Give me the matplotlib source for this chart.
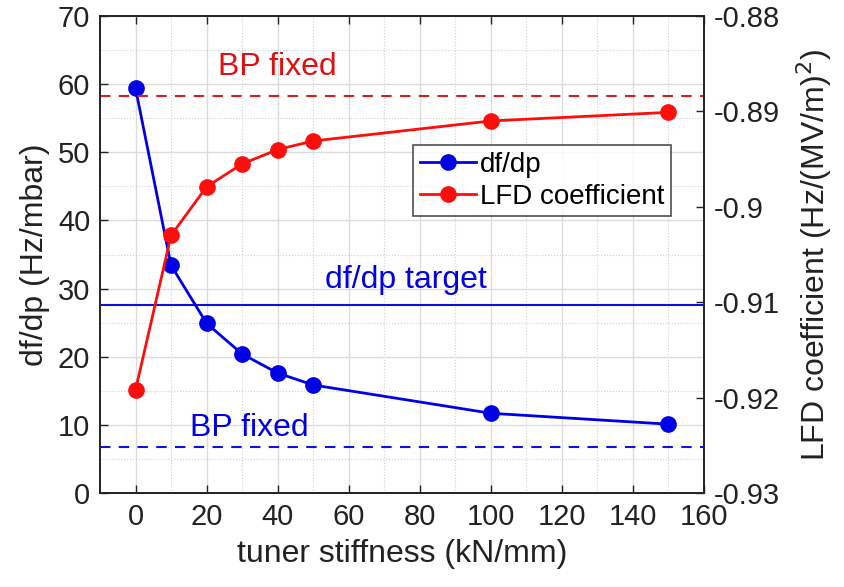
import matplotlib
matplotlib.use("Agg")
import matplotlib.pyplot as plt
from matplotlib.ticker import MultipleLocator

plt.rcParams['font.family'] = ['Liberation Sans', 'DejaVu Sans']

stiffness = [0, 10, 20, 30, 40, 50, 100, 150]
dfdp = [59.4, 33.4, 24.9, 20.4, 17.6, 15.85, 11.7, 10.1]
lfd = [-0.9192, -0.9030, -0.8979, -0.8955, -0.8940, -0.8931, -0.8910, -0.8901]
dfdp_target = 27.6
dfdp_bp_fixed = 6.8
lfd_bp_fixed = -0.8884

fig = plt.figure(figsize=(8.44, 5.87), dpi=100)
ax = fig.add_axes([100/844, 1-493/587, 604/844, 477/587])
ax2 = ax.twinx()

ax.set_xlim(-10, 160)
ax.set_ylim(0, 70)
ax2.set_ylim(-0.93, -0.88)

ax.xaxis.set_major_locator(MultipleLocator(20))
ax.xaxis.set_minor_locator(MultipleLocator(10))
ax.yaxis.set_major_locator(MultipleLocator(10))
ax.yaxis.set_minor_locator(MultipleLocator(5))
ax2.set_yticks([-0.93, -0.92, -0.91, -0.90, -0.89, -0.88])
ax2.set_yticklabels(['-0.93', '-0.92', '-0.91', '-0.9', '-0.89', '-0.88'])

ax.grid(which='major', color='#dcdcdc', linewidth=1.0)
ax.grid(which='minor', color='#d0d0d0', linewidth=0.8, linestyle=':')
ax.set_axisbelow(True)

ax.tick_params(which='major', direction='in', length=6, width=1, top=True, labelsize=21, pad=7, colors='#222222')
ax.tick_params(which='minor', length=0)
ax2.tick_params(direction='in', length=6, width=1, labelsize=21, pad=7, colors='#222222')
for a in (ax, ax2):
    for s in a.spines.values():
        s.set_color('#222222')
        s.set_linewidth(1.2)

ax.axhline(dfdp_target, color='#1010d0', linewidth=1.5)
ax.axhline(dfdp_bp_fixed, color='#1010e0', linewidth=1.5, linestyle=(0, (5, 4)))
ax2.axhline(lfd_bp_fixed, color='#d02020', linewidth=1.5, linestyle=(0, (5, 4)))

l1, = ax.plot(stiffness, dfdp, color='#0000e6', marker='o', markersize=11, linewidth=2, label='df/dp', zorder=5)
l2, = ax2.plot(stiffness, lfd, color='#ff0d0d', marker='o', markersize=11, linewidth=2, label='LFD coefficient', zorder=5)

ax.text(40, 62.5, 'BP fixed', color='#e01010', fontsize=23, ha='center', va='center')
ax.text(76, 31.3, 'df/dp target', color='#0000e0', fontsize=23, ha='center', va='center')
ax.text(32, 9.6, 'BP fixed', color='#0000e0', fontsize=23, ha='center', va='center')

ax.set_xlabel('tuner stiffness (kN/mm)', fontsize=23, color='#222222', labelpad=6)
ax.set_ylabel('df/dp (Hz/mbar)', fontsize=23, color='#222222', labelpad=6)
ax2.set_ylabel('LFD coefficient (Hz/(MV/m)$^2$)', fontsize=23, color='#222222', labelpad=10)

leg = ax2.legend(handles=[l1, l2], loc='upper left', bbox_to_anchor=(413/844, 1-145/587),
                 bbox_transform=fig.transFigure, fontsize=20, frameon=True, fancybox=False,
                 edgecolor='#222222', handlelength=2.0, borderpad=0.25, labelspacing=0.2,
                 handletextpad=0.15, borderaxespad=0)
leg.get_frame().set_linewidth(1.2)

fig.savefig('out.png', dpi=100)
